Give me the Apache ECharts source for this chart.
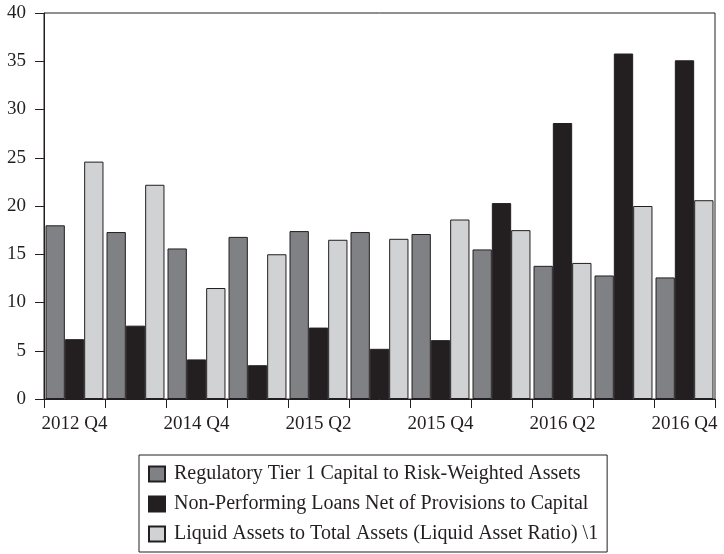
<!DOCTYPE html>
<html>
<head>
<meta charset="utf-8">
<script src="https://cdn.jsdelivr.net/npm/echarts@6/dist/echarts.min.js"></script>
<style>
  html, body { margin: 0; padding: 0; background: #fff; }
  #chart { width: 724px; height: 554px; }
</style>
</head>
<body>
<div id="chart"></div>
<script>
// Quarterly banking soundness indicators (%)
const categories = ['2012 Q4', '2013 Q4', '2014 Q4', '2015 Q1', '2015 Q2', '2015 Q3',
                    '2015 Q4', '2016 Q1', '2016 Q2', '2016 Q3', '2016 Q4'];
const tier1Capital = [18.0, 17.3, 15.6, 16.8, 17.4, 17.3, 17.1, 15.5, 13.8, 12.8, 12.6];
const nplNetToCapital = [6.2, 7.6, 4.1, 3.5, 7.4, 5.2, 6.1, 20.3, 28.6, 35.8, 35.1];
const liquidAssetRatio = [24.6, 22.2, 11.5, 15.0, 16.5, 16.6, 18.6, 17.5, 14.1, 20.0, 20.6];
const yTicks = [0, 5, 10, 15, 20, 25, 30, 35, 40];

const seriesNames = [
  'Regulatory Tier 1 Capital to Risk-Weighted Assets',
  'Non-Performing Loans Net of Provisions to Capital',
  'Liquid Assets to Total Assets (Liquid Asset Ratio) \\1'
];

const ink = '#231f20';
const font = 'Liberation Serif';

function barSeries(name, data, color) {
  return {
    name: name,
    type: 'bar',
    data: data,
    barGap: '0%',
    barCategoryGap: '5%',
    itemStyle: { color: color, borderColor: ink, borderWidth: 1 }
  };
}

const chart = echarts.init(document.getElementById('chart'));
chart.setOption({
  animation: false,
  backgroundColor: '#fff',
  textStyle: { fontFamily: font },
  grid: { left: 44, right: 9, top: 13, bottom: 155, show: true, borderColor: ink, borderWidth: 1 },
  xAxis: {
    type: 'category',
    data: categories,
    axisLine: { lineStyle: { color: ink, width: 1 } },
    axisTick: { show: true, interval: 0, length: 9, lineStyle: { color: ink } },
    axisLabel: { interval: 1, color: ink, fontFamily: font, fontSize: 19, margin: 16 }
  },
  yAxis: {
    type: 'value',
    min: yTicks[0],
    max: yTicks[yTicks.length - 1],
    interval: 5,
    axisLine: { show: true, lineStyle: { color: ink, width: 1 } },
    axisTick: { show: true, length: 9, lineStyle: { color: ink } },
    splitLine: { show: false },
    axisLabel: { color: ink, fontFamily: font, fontSize: 19, margin: 18 }
  },
  legend: {
    orient: 'vertical',
    left: 139,
    top: 455,
    padding: [9, 9, 8, 9],
    itemWidth: 16,
    itemHeight: 15,
    itemGap: 10,
    borderColor: ink,
    borderWidth: 1,
    icon: 'rect',
    textStyle: { color: ink, fontFamily: font, fontSize: 20, padding: [0, 0, 0, 4] },
    data: seriesNames
  },
  series: [
    barSeries(seriesNames[0], tier1Capital, '#808185'),
    barSeries(seriesNames[1], nplNetToCapital, '#231f20'),
    barSeries(seriesNames[2], liquidAssetRatio, '#d1d2d4')
  ]
});
</script>
</body>
</html>
